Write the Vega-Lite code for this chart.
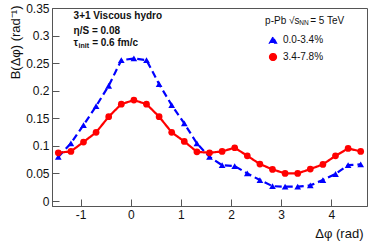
{
  "$schema": "https://vega.github.io/schema/vega-lite/v6.json",
  "width": 315,
  "height": 198,
  "autosize": {"type": "none"},
  "padding": {"left": 52, "top": 8, "right": 7, "bottom": 37},
  "background": "white",
  "config": {
    "font": "Liberation Sans",
    "view": {"stroke": "#555", "strokeWidth": 1},
    "axis": {
      "grid": false,
      "domainColor": "#555",
      "tickColor": "#555",
      "labelColor": "#111",
      "titleColor": "#111",
      "labelFont": "Liberation Sans",
      "titleFont": "Liberation Sans",
      "labelFontSize": 12,
      "titleFontSize": 13,
      "titleFontWeight": "normal",
      "labelOverlap": false
    }
  },
  "datasets": {
    "curves": [
      {"dphi": -1.4451, "B": 0.080, "series": "0.0-3.4%"},
      {"dphi": -1.1938, "B": 0.1045, "series": "0.0-3.4%"},
      {"dphi": -0.9425, "B": 0.1377, "series": "0.0-3.4%"},
      {"dphi": -0.6912, "B": 0.172, "series": "0.0-3.4%"},
      {"dphi": -0.4398, "B": 0.209, "series": "0.0-3.4%"},
      {"dphi": -0.1885, "B": 0.2554, "series": "0.0-3.4%"},
      {"dphi": 0.0628, "B": 0.2585, "series": "0.0-3.4%"},
      {"dphi": 0.3142, "B": 0.2554, "series": "0.0-3.4%"},
      {"dphi": 0.5655, "B": 0.212, "series": "0.0-3.4%"},
      {"dphi": 0.8168, "B": 0.174, "series": "0.0-3.4%"},
      {"dphi": 1.0681, "B": 0.1407, "series": "0.0-3.4%"},
      {"dphi": 1.3195, "B": 0.1045, "series": "0.0-3.4%"},
      {"dphi": 1.5708, "B": 0.080, "series": "0.0-3.4%"},
      {"dphi": 1.8221, "B": 0.065, "series": "0.0-3.4%"},
      {"dphi": 2.0735, "B": 0.0634, "series": "0.0-3.4%"},
      {"dphi": 2.3248, "B": 0.050, "series": "0.0-3.4%"},
      {"dphi": 2.5761, "B": 0.038, "series": "0.0-3.4%"},
      {"dphi": 2.8274, "B": 0.027, "series": "0.0-3.4%"},
      {"dphi": 3.0788, "B": 0.026, "series": "0.0-3.4%"},
      {"dphi": 3.3301, "B": 0.026, "series": "0.0-3.4%"},
      {"dphi": 3.5814, "B": 0.0284, "series": "0.0-3.4%"},
      {"dphi": 3.8327, "B": 0.038, "series": "0.0-3.4%"},
      {"dphi": 4.0841, "B": 0.049, "series": "0.0-3.4%"},
      {"dphi": 4.3354, "B": 0.065, "series": "0.0-3.4%"},
      {"dphi": 4.5867, "B": 0.0665, "series": "0.0-3.4%"},
      {"dphi": -1.4451, "B": 0.0875, "series": "3.4-7.8%"},
      {"dphi": -1.1938, "B": 0.090, "series": "3.4-7.8%"},
      {"dphi": -0.9425, "B": 0.107, "series": "3.4-7.8%"},
      {"dphi": -0.6912, "B": 0.1245, "series": "3.4-7.8%"},
      {"dphi": -0.4398, "B": 0.153, "series": "3.4-7.8%"},
      {"dphi": -0.1885, "B": 0.1757, "series": "3.4-7.8%"},
      {"dphi": 0.0628, "B": 0.183, "series": "3.4-7.8%"},
      {"dphi": 0.3142, "B": 0.1757, "series": "3.4-7.8%"},
      {"dphi": 0.5655, "B": 0.153, "series": "3.4-7.8%"},
      {"dphi": 0.8168, "B": 0.1245, "series": "3.4-7.8%"},
      {"dphi": 1.0681, "B": 0.108, "series": "3.4-7.8%"},
      {"dphi": 1.3195, "B": 0.0893, "series": "3.4-7.8%"},
      {"dphi": 1.5708, "B": 0.0875, "series": "3.4-7.8%"},
      {"dphi": 1.8221, "B": 0.090, "series": "3.4-7.8%"},
      {"dphi": 2.0735, "B": 0.0966, "series": "3.4-7.8%"},
      {"dphi": 2.3248, "B": 0.082, "series": "3.4-7.8%"},
      {"dphi": 2.5761, "B": 0.067, "series": "3.4-7.8%"},
      {"dphi": 2.8274, "B": 0.0574, "series": "3.4-7.8%"},
      {"dphi": 3.0788, "B": 0.050, "series": "3.4-7.8%"},
      {"dphi": 3.3301, "B": 0.050, "series": "3.4-7.8%"},
      {"dphi": 3.5814, "B": 0.058, "series": "3.4-7.8%"},
      {"dphi": 3.8327, "B": 0.0664, "series": "3.4-7.8%"},
      {"dphi": 4.0841, "B": 0.082, "series": "3.4-7.8%"},
      {"dphi": 4.3354, "B": 0.0954, "series": "3.4-7.8%"},
      {"dphi": 4.5867, "B": 0.090, "series": "3.4-7.8%"}
    ],
    "boldnotes": [
      {"label": "3+1 Viscous hydro", "nx": -1.14, "ny": 0.3297, "size": 10},
      {"label": "η/S = 0.08", "nx": -1.14, "ny": 0.3025, "size": 10},
      {"label": "τ", "nx": -1.14, "ny": 0.2808, "size": 10},
      {"label": "init", "nx": -1.04, "ny": 0.2775, "size": 7},
      {"label": "= 0.6 fm/c", "nx": -0.77, "ny": 0.2808, "size": 10}
    ],
    "plainnotes": [
      {"label": "p-Pb √s", "nx": 2.68, "ny": 0.3215, "size": 10},
      {"label": "NN", "nx": 3.36, "ny": 0.3185, "size": 6.5},
      {"label": "= 5 TeV", "nx": 3.58, "ny": 0.3215, "size": 10}
    ]
  },
  "encoding": {
    "x": {
      "field": "dphi", "type": "quantitative",
      "scale": {"domain": [-1.5708, 4.7124], "nice": false, "zero": false},
      "axis": {
        "values": [-1, 0, 1, 2, 3, 4],
        "labelExpr": "datum.value + ''",
        "labelOverlap": false,
        "tickSize": -7,
        "labelPadding": 10,
        "title": "Δφ (rad)",
        "titleAnchor": "end",
        "titleAlign": "right",
        "titleBaseline": "middle",
        "titleX": 311,
        "titleY": 27
      }
    },
    "y": {
      "field": "B", "type": "quantitative",
      "scale": {"domain": [-0.009, 0.35], "nice": false, "zero": false},
      "axis": {
        "values": [0, 0.05, 0.1, 0.15, 0.2, 0.25, 0.3, 0.35],
        "labelExpr": "datum.value + ''",
        "labelOverlap": false,
        "tickSize": -7,
        "labelPadding": 10,
        "title": "B(Δφ) (rad⁻¹)",
        "titleAngle": -90,
        "titleAlign": "right",
        "titleBaseline": "middle",
        "titleX": -37,
        "titleY": -3
      }
    },
    "color": {
      "field": "series", "type": "nominal",
      "scale": {"domain": ["0.0-3.4%", "3.4-7.8%"], "range": ["#0000ff", "#ff0000"]},
      "legend": {
        "orient": "none",
        "legendX": 216,
        "legendY": 27,
        "title": null,
        "labelFontSize": 10,
        "labelFont": "Liberation Sans",
        "labelColor": "#111",
        "symbolSize": 45,
        "rowPadding": 4,
        "labelOffset": 5
      }
    }
  },
  "layer": [
    {
      "data": {"name": "curves"},
      "mark": {"type": "line", "strokeWidth": 2.2},
      "encoding": {
        "strokeDash": {
          "field": "series", "type": "nominal",
          "scale": {"domain": ["0.0-3.4%", "3.4-7.8%"], "range": [[7, 4], [1, 0]]},
          "legend": null
        }
      }
    },
    {
      "data": {"name": "curves"},
      "mark": {"type": "point", "filled": true, "opacity": 1, "size": 45},
      "encoding": {
        "shape": {
          "field": "series", "type": "nominal",
          "scale": {"domain": ["0.0-3.4%", "3.4-7.8%"], "range": ["triangle-up", "circle"]},
          "legend": null
        }
      }
    },
    {
      "data": {"name": "boldnotes"},
      "mark": {"type": "text", "align": "left", "baseline": "alphabetic", "font": "Liberation Sans", "fontWeight": "bold", "color": "#111"},
      "encoding": {
        "x": {"field": "nx", "type": "quantitative"},
        "y": {"field": "ny", "type": "quantitative"},
        "color": {"value": "#111"},
        "text": {"field": "label"},
        "size": {"field": "size", "type": "quantitative", "scale": null}
      }
    },
    {
      "data": {"name": "plainnotes"},
      "mark": {"type": "text", "align": "left", "baseline": "alphabetic", "font": "Liberation Sans", "color": "#111"},
      "encoding": {
        "x": {"field": "nx", "type": "quantitative"},
        "y": {"field": "ny", "type": "quantitative"},
        "color": {"value": "#111"},
        "text": {"field": "label"},
        "size": {"field": "size", "type": "quantitative", "scale": null}
      }
    }
  ]
}
